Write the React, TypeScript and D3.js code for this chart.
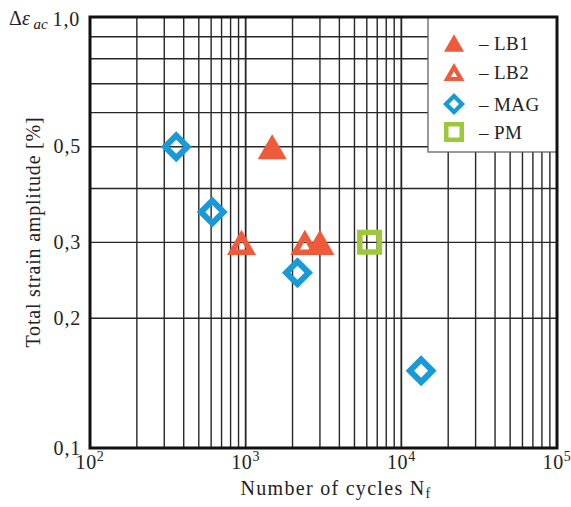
import * as d3 from 'd3'

const lb1N = [1480, 3000]
const lb1S = [0.5, 0.3]
const lb2N = [940, 2400]
const lb2S = [0.3, 0.3]
const magN = [358, 610, 2150, 13400]
const magS = [0.5, 0.353, 0.255, 0.151]
const pmN = [6250]
const pmS = [0.3]

const yTicks = [0.1, 0.2, 0.3, 0.5]
const yTickLabels = ['0,1', '0,2', '0,3', '0,5']
const yGrid = [0.2, 0.3, 0.4, 0.5, 0.6, 0.7, 0.8, 0.9]
const xDecades = [2, 3, 4, 5]

const legendNames = ['LB1', 'LB2', 'MAG', 'PM']

const RED = '#ef5a3a'
const BLUE = '#189ad6'
const GREEN = '#9cc83a'
const FONT = '"Liberation Serif", "DejaVu Serif", serif'

const W = 571
const H = 507
const left = 90
const right = 557
const top = 17
const bottom = 448

const x = d3.scaleLog().domain([1e2, 1e5]).range([left, right])
const y = d3.scaleLog().domain([0.1, 1]).range([bottom, top])

// triangle centred on its bounding box, optional hole of thickness t
function triangle(cx: number, cy: number, w: number, t = 0) {
    const h = (w * Math.sqrt(3)) / 2
    const p = d3.path()
    p.moveTo(cx, cy - h / 2)
    p.lineTo(cx + w / 2, cy + h / 2)
    p.lineTo(cx - w / 2, cy + h / 2)
    p.closePath()
    if (t > 0) {
        const gy = cy + h / 6
        const r = h / 3
        const k = (r - t) / r
        p.moveTo(cx, gy + (cy - h / 2 - gy) * k)
        p.lineTo(cx + (w / 2) * k, gy + (h / 3) * k)
        p.lineTo(cx - (w / 2) * k, gy + (h / 3) * k)
        p.closePath()
    }
    return p.toString()
}

function diamond(cx: number, cy: number, r: number, ri: number) {
    const p = d3.path()
    p.moveTo(cx, cy - r)
    p.lineTo(cx + r, cy)
    p.lineTo(cx, cy + r)
    p.lineTo(cx - r, cy)
    p.closePath()
    p.moveTo(cx, cy - ri)
    p.lineTo(cx + ri, cy)
    p.lineTo(cx, cy + ri)
    p.lineTo(cx - ri, cy)
    p.closePath()
    return p.toString()
}

function square(cx: number, cy: number, s: number, t: number) {
    const p = d3.path()
    p.rect(cx - s / 2, cy - s / 2, s, s)
    p.rect(cx - s / 2 + t, cy - s / 2 + t, s - 2 * t, s - 2 * t)
    return p.toString()
}

function App() {
    const xGrid: number[] = []
    xDecades.slice(0, 3).forEach((e) => {
        for (let m = 2; m <= 9; m++) xGrid.push(m * Math.pow(10, e))
    })
    const legendRows = [43, 72, 104, 132]
    const lx = 454

    return (
        <svg
            width={W}
            height={H}
            style={{ position: 'absolute', left: 0, top: 0, background: '#fff' }}
            fontFamily={FONT}
        >
            <g stroke="#262626" strokeWidth={1.4}>
                {xGrid.map((v) => (
                    <line key={'x' + v} x1={x(v)} x2={x(v)} y1={top} y2={bottom} />
                ))}
                {[1e3, 1e4].map((v) => (
                    <line key={'d' + v} x1={x(v)} x2={x(v)} y1={top} y2={bottom} strokeWidth={1.8} />
                ))}
                {yGrid.map((v) => (
                    <line key={'y' + v} x1={left} x2={right} y1={y(v)} y2={y(v)} />
                ))}
            </g>

            {/* legend box */}
            <rect x={428} y={top} width={right - 428} height={152 - top} fill="#fff" stroke="#555" strokeWidth={1.2} />

            <rect x={left} y={top} width={right - left} height={bottom - top} fill="none" stroke="#111" strokeWidth={3} />

            {/* y ticks */}
            {yTicks.map((v, i) => (
                <text key={v} x={81} y={y(v) + 6.5} fontSize={20} letterSpacing={0.8} textAnchor="end" fill="#222">
                    {yTickLabels[i]}
                </text>
            ))}
            <text x={80} y={26} fontSize={20} letterSpacing={0.8} textAnchor="end" fill="#222">
                1,0
            </text>
            <text x={9} y={25} fontSize={20} fill="#222">
                Δ<tspan fontStyle="italic">ε</tspan>
                <tspan fontStyle="italic" fontSize={15} dy={4}>
                    {' '}ac
                </tspan>
            </text>

            {/* x ticks */}
            {xDecades.map((e) => (
                <text key={e} x={x(Math.pow(10, e))} y={469} fontSize={20} letterSpacing={0.6} textAnchor="middle" fill="#222">
                    10
                    <tspan fontSize={14} dy={-8}>
                        {e}
                    </tspan>
                </text>
            ))}

            <text x={336} y={495} fontSize={20} letterSpacing={1.3} textAnchor="middle" fill="#222">
                Number of cycles N
                <tspan fontSize={14} dy={3}>
                    f
                </tspan>
            </text>
            <text
                transform="translate(40,232) rotate(-90)"
                fontSize={20}
                letterSpacing={0.8}
                textAnchor="middle"
                fill="#222"
            >
                Total strain amplitude [%]
            </text>

            {/* data */}
            {magN.map((n, i) => (
                <path key={'m' + i} d={diamond(x(n), y(magS[i]), 15.5, 7)} fill={BLUE} fillRule="evenodd" />
            ))}
            {lb2N.map((n, i) => (
                <path key={'b' + i} d={triangle(x(n), y(lb2S[i]), 29, 5.5)} fill={RED} fillRule="evenodd" />
            ))}
            {lb1N.map((n, i) => (
                <path key={'a' + i} d={triangle(x(n), y(lb1S[i]), 29)} fill={RED} />
            ))}
            {pmN.map((n, i) => (
                <path key={'p' + i} d={square(x(n), y(pmS[i]), 25, 5.5)} fill={GREEN} fillRule="evenodd" />
            ))}

            {/* legend */}
            <path d={triangle(lx, legendRows[0], 20)} fill={RED} />
            <path d={triangle(lx, legendRows[1], 21, 4.2)} fill={RED} fillRule="evenodd" />
            <path d={diamond(lx, legendRows[2], 11, 5)} fill={BLUE} fillRule="evenodd" />
            <path d={square(lx, legendRows[3], 20, 4.5)} fill={GREEN} fillRule="evenodd" />
            {legendNames.map((name, i) => (
                <text key={name} x={479} y={legendRows[i] + 6.5} fontSize={19} letterSpacing={0.4} fill="#222">
                    – {name}
                </text>
            ))}
        </svg>
    )
}

export default App
